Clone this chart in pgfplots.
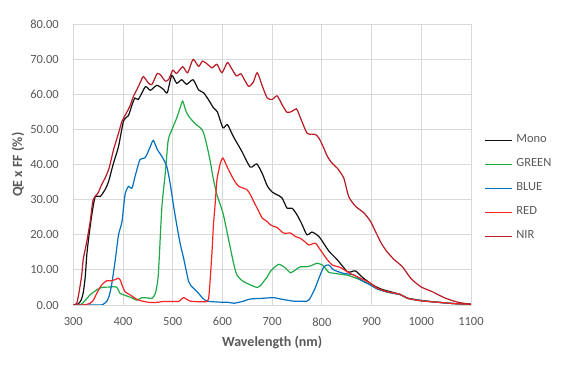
\documentclass[border=0pt]{standalone}
\usepackage{pgfplots}
\pgfplotsset{compat=1.18}
\usepackage{fontspec}
\setmainfont{Carlito}
\definecolor{gridgrey}{RGB}{217,217,217}
\definecolor{txtgrey}{RGB}{89,89,89}
\definecolor{cmono}{RGB}{15,15,15}
\definecolor{cgreen}{RGB}{30,170,70}
\definecolor{cblue}{RGB}{0,112,192}
\definecolor{cred}{RGB}{245,35,35}
\definecolor{cnir}{RGB}{185,25,35}
\begin{document}
\begin{tikzpicture}
\path[use as bounding box] (-73.3bp,-62bp) rectangle (492.7bp,305bp);
\begin{axis}[
  at={(0,0)}, anchor=south west,
  scale only axis, width=397.7bp, height=280.7bp,
  xmin=300, xmax=1100, ymin=0, ymax=80,
  xtick={300,400,...,1100}, ytick={0,10,...,80},
  grid=major, major grid style={gridgrey, line width=0.9bp},
  axis line style={gridgrey, line width=0.9bp},
  major tick length=0pt,
  tick label style={font=\fontsize{12.5bp}{14bp}\selectfont, text=txtgrey},
  /pgf/number format/assume math mode=true,
  /pgf/number format/1000 sep={},
  yticklabel style={/pgf/number format/fixed, /pgf/number format/fixed zerofill, /pgf/number format/precision=2, xshift=-11bp},
  xticklabel style={yshift=-9bp},
  xlabel={\bfseries Wavelength (nm)},
  ylabel={\bfseries QE x FF (\%)},
  label style={font=\fontsize{14bp}{16bp}\selectfont, text=txtgrey},
  xlabel style={at={(axis description cs:0.5,-0.1343)}, anchor=center},
  ylabel style={at={(axis description cs:-0.139,0.5)}, anchor=center, rotate=0},
  legend style={at={(axis description cs:1,0.4157)}, anchor=west, xshift=13bp,
    draw=none, fill=none, inner sep=0pt, row sep=12bp,
    font=\fontsize{12.5bp}{14bp}\selectfont, text=txtgrey,
    nodes={inner ysep=0pt, inner xsep=4bp, text height=8.5bp, text depth=3.5bp}},
  legend cell align=left,
  legend image code/.code={\draw[#1] (0bp,0bp) -- (27bp,0bp);},
  every axis plot/.append style={line width=1.2bp, smooth, tension=0.4},
]
\addplot[cmono] coordinates {
(300,0) (310,0.3) (316,1.5) (320,3.5) (324,8) (327,14) (330,18) (337,25.5) (344,30.8) (354,30.9)
(364,32.9) (371,35.2) (380,40) (391,45.2) (401,52.4) (411,54) (418,57) (424,59) (431,58.6) (445,62.2)
(455,61.2) (468,62.6) (481,61.5) (489,60.5) (498,65.4) (508,63.2) (518,64.2) (528,62.9) (541,64.2) (552,61.3)
(562,60.5) (572,58.5) (582,56.2) (590,55) (601,50.5) (610,51.4) (622,48) (639,43.8) (656,39.3) (669,40.2)
(680,37.5) (690,34) (700,32.2) (710,31.4) (720,30.5) (730,27.6) (740,27.6) (750,25.7) (760,23) (770,20)
(780,20.8) (790,20) (797,19) (814,15.4) (831,12.9) (851,9.5) (860,9.5) (868,9.7) (884,7.6) (905,5.5)
(920,4.5) (940,3.7) (958,3.0) (972,2.0) (1000,1.3) (1032,0.8) (1066,0.4) (1100,0.2)
};
\addlegendentry{Mono}
\addplot[cgreen] coordinates {
(300,0) (313,0) (320,0.7) (334,2.9) (347,4.3) (357,5) (370,5.1) (387,5.1) (394,3.3) (401,2.9)
(415,2.2) (428,1.4) (438,2.1) (450,2) (458,1.9) (465,3.3) (471,8.6) (478,27.6) (485,37.5) (491,47)
(500,50.5) (508,53.3) (514,55.8) (520,58.1) (526,55.5) (532,53.8) (545,51.7) (559,50) (565,47.6) (571,44)
(576,40.5) (582,35.7) (589,31.4) (596,28.5) (602,25.7) (609,21) (616,16.2) (623,11.5) (629,8.6) (639,7)
(649,6.2) (660,5.5) (670,5) (677,5.6) (683,6.7) (690,8) (696,9.5) (706,10.9) (713,11.6) (720,11.2)
(727,10.5) (737,9.2) (747,10) (757,10.9) (770,10.9) (780,11.3) (790,11.9) (801,11.4) (808,10.3) (814,9.3)
(831,8.9) (854,8.4) (878,7.1) (898,5.7) (911,4.6) (931,3.7) (958,3.0) (972,1.9) (1000,1.2) (1032,0.8)
(1066,0.4) (1100,0.2)
};
\addlegendentry{GREEN}
\addplot[cblue] coordinates {
(300,0) (354,0) (360,0.2) (367,1) (372,2.5) (377,5.7) (384,12.4) (391,20) (398,23.8) (404,31.4)
(411,33.8) (418,33.3) (424,36.5) (434,41.4) (444,41.9) (450,43.5) (455,45.2) (461,46.9) (469,44.3) (478,42.4)
(488,39.5) (495,34.5) (502,28) (508,22.9) (515,17.5) (522,13.3) (532,6.7) (540,5) (549,3.8) (560,2)
(569,1.1) (596,0.8) (610,0.8) (623,0.5) (640,1) (656,1.7) (680,1.9) (703,2.1) (717,1.7) (743,1.1)
(770,1.1) (775,1.6) (780,2.9) (787,5) (794,7.6) (804,10.9) (814,11.4) (824,10) (844,9) (864,8.6)
(880,7) (898,5.7) (911,4.6) (931,3.7) (958,2.9) (972,1.9) (1000,1.2) (1032,0.8) (1066,0.4) (1100,0.2)
};
\addlegendentry{BLUE}
\addplot[cred] coordinates {
(300,0) (320,0) (334,0.5) (341,1.5) (347,3.3) (357,5.7) (367,6.9) (377,6.9) (385,7.3) (391,7.6)
(395,7) (398,5.7) (404,3.8) (414,2.9) (431,1.4) (455,0.7) (471,0.8) (481,1) (505,1) (512,1)
(522,2.1) (535,1.1) (569,1) (573,3) (576,8.6) (579,15) (582,22.9) (586,30) (589,35.7) (596,40.5)
(601,41.9) (609,39.5) (619,36.7) (626,35) (633,33.8) (649,32.9) (656,31.5) (663,29.5) (672,27) (680,24.8)
(690,23.8) (696,22.9) (703,22.4) (710,22.1) (723,20.5) (737,20.5) (747,19.5) (757,19) (766,18) (774,17.1)
(787,17.6) (797,15.7) (811,12.9) (821,11.4) (837,10.7) (857,9) (878,7.6) (898,6.2) (911,4.8) (931,3.8)
(958,3.0) (972,1.9) (999,1.2) (1032,0.8) (1066,0.4) (1100,0.2)
};
\addlegendentry{RED}
\addplot[cnir] coordinates {
(300,0) (307,0.5) (312,4) (317,8.6) (320,13) (327,18) (334,23.8) (340,30) (350,32) (357,34.3)
(364,36.2) (372,39) (381,44.3) (390,48.5) (398,52.4) (406,54.5) (414,56.7) (421,59.5) (428,61.4) (435,63.5)
(441,65.1) (451,63.3) (458,62.8) (469,66) (477,65.3) (485,63.8) (492,64.3) (500,66.9) (508,66) (520,67.9)
(530,66.2) (541,70) (552,68) (560,69.5) (570,68.6) (579,67.6) (589,68.6) (599,66.2) (610,69.1) (618,67.5)
(628,65.3) (637,65.9) (645,64) (653,62.3) (662,63.5) (670,66.2) (680,62.5) (690,59) (700,58.6) (710,59.6)
(720,57.1) (730,54.9) (740,55.2) (749,55.9) (757,53.3) (770,49) (780,48.7) (787,48.6) (794,47.6) (803,45)
(811,42.4) (820,40.5) (831,39) (844,36.2) (854,30.9) (868,28.1) (885,26.2) (898,23.8) (908,20.9) (920,17.5)
(931,15.2) (945,13) (962,10.9) (979,7.6) (999,5.2) (1022,3.8) (1046,2.1) (1073,0.8) (1100,0.2)
};
\addlegendentry{NIR}
\end{axis}
\end{tikzpicture}
\end{document}
